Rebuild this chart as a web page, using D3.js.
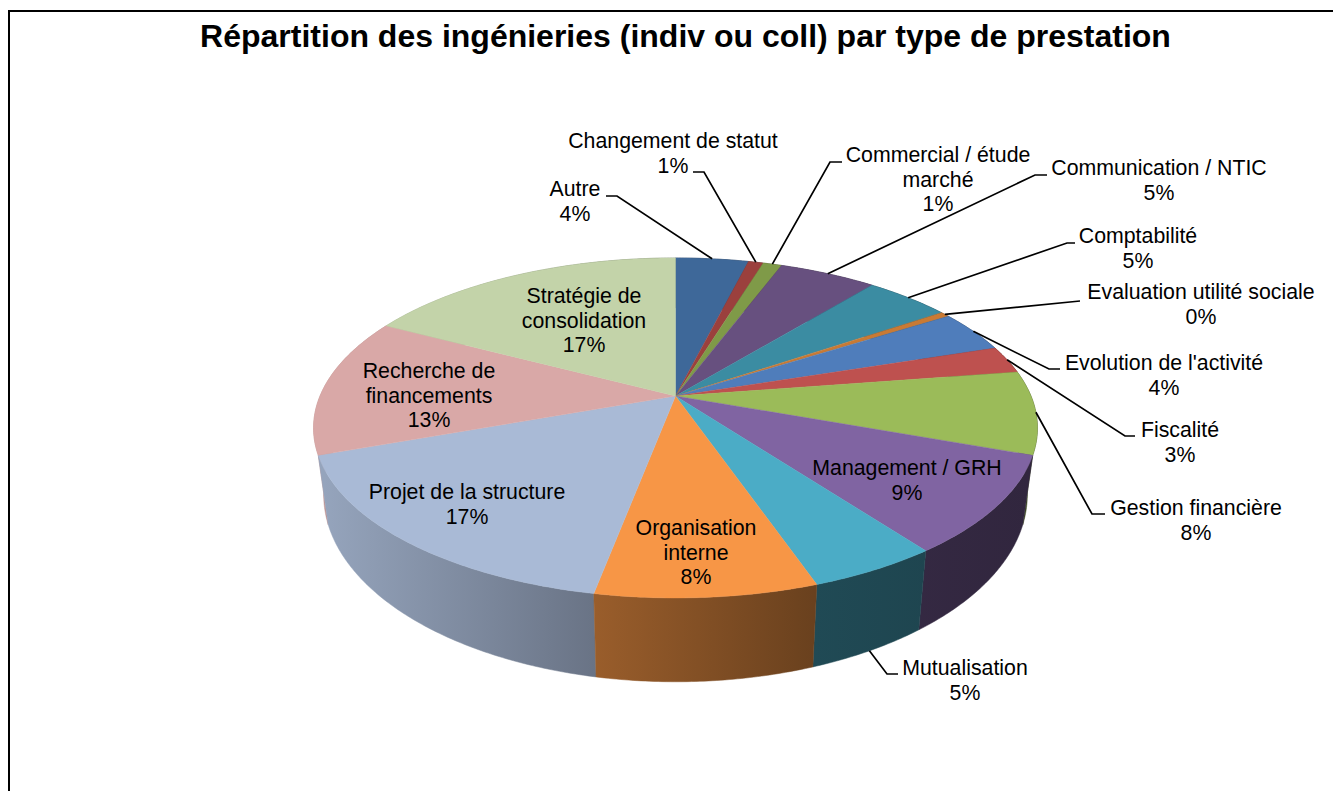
<!DOCTYPE html>
<html lang="fr">
<head>
<meta charset="UTF-8">
<title>Répartition des ingénieries</title>
<script src="https://cdn.jsdelivr.net/npm/d3@7"></script>
<style>
  html, body { margin: 0; padding: 0; background: #fff; overflow: hidden; }
  svg { display: block; }
  text { font-family: "Liberation Sans", Arial, sans-serif; fill: #000; }
</style>
</head>
<body>
<svg width="1333" height="791"></svg>
<script>
const chartTitle = "Répartition des ingénieries (indiv ou coll) par type de prestation";
const categories = ["Autre", "Changement de statut", "Commercial / étude marché", "Communication / NTIC",
  "Comptabilité", "Evaluation utilité sociale", "Evolution de l'activité", "Fiscalité", "Gestion financière",
  "Management / GRH", "Mutualisation", "Organisation interne", "Projet de la structure",
  "Recherche de financements", "Stratégie de consolidation"];
const values = [3.9, 0.8, 1.0, 5.2, 4.6, 0.5, 4.0, 2.6, 7.9, 9.3, 4.9, 8.3, 16.5, 13.2, 17.3];
const pctLabels = ["4%", "1%", "1%", "5%", "5%", "0%", "4%", "3%", "8%", "9%", "5%", "8%", "17%", "13%", "17%"];
const colors = ["#3e6899", "#9b403d", "#7f9a48", "#67507f", "#3b8ca2", "#c97a34", "#4f7dbb", "#be514f",
  "#9bbb59", "#8064a2", "#4bacc6", "#f79646", "#a9bad6", "#d9a8a7", "#c3d3a9"];

// text lines + where they sit, same order as categories
const labelLines = [["Autre"], ["Changement de statut"], ["Commercial / étude", "marché"], ["Communication / NTIC"],
  ["Comptabilité"], ["Evaluation utilité sociale"], ["Evolution de l'activité"], ["Fiscalité"], ["Gestion financière"],
  ["Management / GRH"], ["Mutualisation"], ["Organisation", "interne"], ["Projet de la structure"],
  ["Recherche de", "financements"], ["Stratégie de", "consolidation"]];
const labelPos = [[575, 189], [673, 141], [938, 155], [1159, 168], [1138, 236], [1201, 292], [1164, 363], [1180, 430],
  [1196, 508], [907, 468], [965, 668], [696, 528], [467, 492], [429, 371], [584, 296]];
// leader elbows: [elbow x, elbow y, end x]; null when the label is inside the slice
const elbows = [[617, 196, 606], [704, 172, 693], [830, 162, 842], [1035, 175, 1047], [1067, 243, 1075],
  [1080, 301, 1080], [1049, 369, 1060], [1125, 436, 1135], [1092, 514, 1105], null, [887, 674, 898], null, null, null, null];

// perspective of the disc
const cx = 675.5, cy = 396, rX = 355.5, rY = 164, persp = 0.188;
const lowScaleX = 0.972, lowScaleY = 1.1, lowShift = 24;
const project = a => {
  const u = Math.sin(a), v = -Math.cos(a), w = 1 - persp * v;
  return [cx + rX * u / w, cy + rY * v / w];
};
const lower = p => [cx + lowScaleX * (p[0] - cx), lowShift + lowScaleY * p[1]];

const svg = d3.select("svg");
const defs = svg.append("defs");
const line = d3.line();
const arcs = d3.pie().sort(null)(values);

const sampleArc = d => {
  const n = Math.max(2, Math.ceil((d.endAngle - d.startAngle) / 0.01));
  return d3.range(n + 1).map(i => project(d.startAngle + (d.endAngle - d.startAngle) * i / n));
};

// frame, open on the right and bottom like the cropped original
svg.append("path").attr("d", "M9,800V11H1340").attr("fill", "none").attr("stroke", "#000").attr("stroke-width", 2);

svg.append("text").attr("x", 685.5).attr("y", 47).attr("text-anchor", "middle")
  .attr("font-weight", "bold").attr("font-size", 32).text(chartTitle);

// shading of the side wall runs left to right
const shade = d3.scaleLinear().domain([325, 597, 813, 1030]).range([0.88, 0.62, 0.43, 0.38]);
arcs.forEach((d, i) => {
  const g = defs.append("linearGradient").attr("id", "side" + i)
    .attr("gradientUnits", "userSpaceOnUse").attr("x1", 325).attr("x2", 1030).attr("y1", 0).attr("y2", 0);
  shade.domain().forEach(x => {
    const c = d3.rgb(colors[i]), k = shade(x);
    g.append("stop").attr("offset", (x - 325) / 705)
      .attr("stop-color", d3.rgb(c.r * k, c.g * k, c.b * k).formatHex());
  });
});

// walls, back to front
const order = d3.range(arcs.length).sort((a, b) =>
  project((arcs[a].startAngle + arcs[a].endAngle) / 2)[1] - project((arcs[b].startAngle + arcs[b].endAngle) / 2)[1]);
svg.append("g").selectAll("path").data(order).join("path")
  .attr("d", i => {
    const top = sampleArc(arcs[i]);
    return line(top.concat(top.map(lower).reverse())) + "Z";
  })
  .attr("fill", i => `url(#side${i})`)
  .attr("stroke", i => `url(#side${i})`).attr("stroke-width", 0.5);

// top faces
svg.append("g").selectAll("path").data(arcs).join("path")
  .attr("d", d => line([[cx, cy]].concat(sampleArc(d))) + "Z")
  .attr("fill", (d, i) => colors[i])
  .attr("stroke", (d, i) => colors[i]).attr("stroke-width", 0.4);

// leader lines
svg.append("g").selectAll("path").data(arcs).join("path")
  .filter((d, i) => elbows[i])
  .attr("d", d => {
    const i = d.index, mid = project((d.startAngle + d.endAngle) / 2);
    const start = categories[i] === "Mutualisation" ? lower(mid) : mid;
    const e = elbows[i];
    return line([start, [e[0], e[1]], [e[2], e[1]]]);
  })
  .attr("fill", "none").attr("stroke", "#000").attr("stroke-width", 1.7);

// labels
const fs = 21.3, lh = 24.6;
arcs.forEach((d, i) => {
  const t = svg.append("text").attr("text-anchor", "middle").attr("font-size", fs);
  labelLines[i].concat(pctLabels[i]).forEach((s, k) => {
    t.append("tspan").attr("x", labelPos[i][0]).attr("y", labelPos[i][1] + 7 + k * lh).text(s);
  });
});
</script>
</body>
</html>
